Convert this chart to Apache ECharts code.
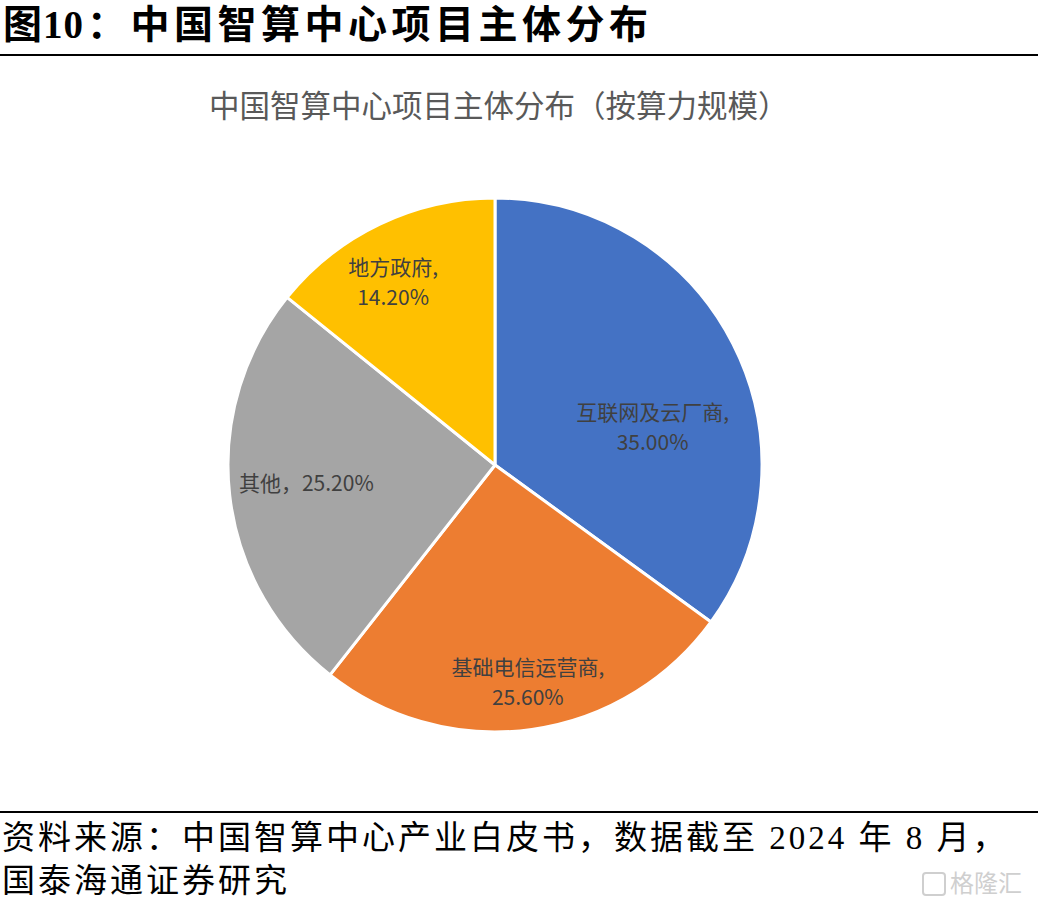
<!DOCTYPE html>
<html>
<head>
<meta charset="utf-8">
<script src="https://cdn.jsdelivr.net/npm/echarts@6/dist/echarts.min.js"></script>
<style>
html,body{margin:0;padding:0;background:#fff;}
#wrap{position:relative;width:1038px;height:906px;overflow:hidden;}
#chart{position:absolute;left:0;top:0;width:1038px;height:906px;}
.t{position:absolute;white-space:nowrap;font-family:"Liberation Serif","Noto Sans CJK SC",serif;color:#000;}
.rule{position:absolute;left:0;width:1038px;height:2px;background:#000;}
</style>
</head>
<body>
<div id="wrap">
<div id="chart"></div>
<div class="t" style="left:3px;top:3px;font-size:39px;line-height:44px;font-weight:bold;"><span style="letter-spacing:1px;">图10</span><span style="letter-spacing:4.5px;margin-left:3px;">：中国智算中心项目主体分布</span></div>
<div class="rule" style="top:54px;"></div>
<div class="rule" style="top:811px;"></div>
<div class="t" style="left:2px;top:818px;font-size:33px;line-height:40px;letter-spacing:3px;">资料来源：中国智算中心产业白皮书，数据截至 2024 年 8 月，</div>
<div class="t" style="left:2px;top:861px;font-size:33px;line-height:40px;letter-spacing:3px;">国泰海通证券研究</div>
<div style="position:absolute;left:922px;top:872px;width:20px;height:20px;border:2px solid #cfcfcf;border-radius:4px;"></div>
<div class="t" style="left:950px;top:867px;font-size:24px;line-height:30px;color:#cfcfcf;font-family:'Noto Sans CJK SC';">格隆汇</div>
</div>
<script>
var chartTitle = '中国智算中心项目主体分布（按算力规模）';
var categories = ['互联网及云厂商', '基础电信运营商', '其他', '地方政府'];
var values = [35.0, 25.6, 25.2, 14.2];
var colors = ['#4472C4', '#ED7D31', '#A5A5A5', '#FFC000'];
var labelSep = [',\n', ',\n', '，', ',\n'];
var labelOffsets = [[36, 23], [14, 81], [-53, 2], [-43, -61]];

var data = categories.map(function (c, i) {
  return {
    name: c,
    value: values[i],
    itemStyle: { color: colors[i] },
    label: { offset: labelOffsets[i] }
  };
});

var chart = echarts.init(document.getElementById('chart'), null, { renderer: 'svg' });
chart.setOption({
  animation: false,
  title: {
    text: chartTitle,
    left: 204,
    top: 84,
    textStyle: {
      fontFamily: 'Noto Sans CJK SC',
      fontWeight: 'normal',
      fontSize: 30.5,
      color: '#595959'
    }
  },
  series: [{
    type: 'pie',
    center: [495, 465],
    radius: 267,
    startAngle: 90,
    clockwise: true,
    itemStyle: { borderColor: '#ffffff', borderWidth: 3 },
    label: {
      show: true,
      position: 'inside',
      fontFamily: 'Noto Sans CJK SC',
      fontSize: 21,
      lineHeight: 30,
      color: '#404040',
      formatter: function (p) {
        return p.name + labelSep[p.dataIndex] + p.value.toFixed(2) + '%';
      }
    },
    labelLine: { show: false },
    data: data
  }]
});
</script>
</body>
</html>
